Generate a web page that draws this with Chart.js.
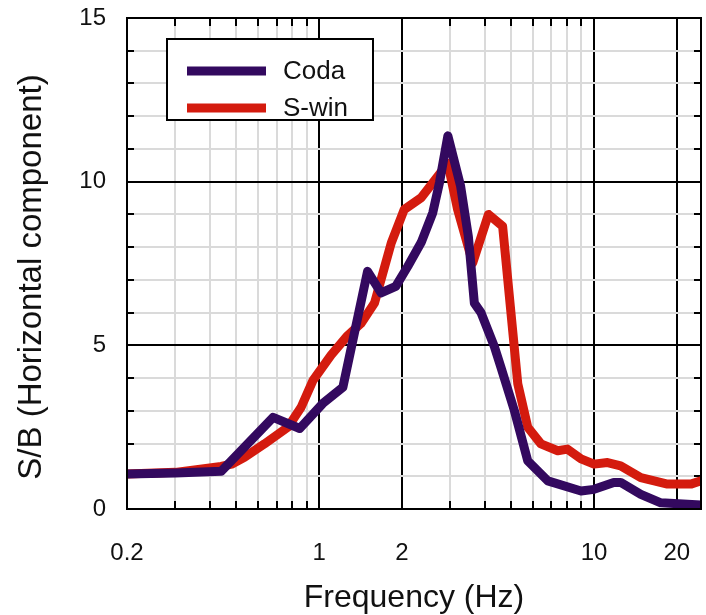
<!DOCTYPE html>
<html>
<head>
<meta charset="utf-8">
<script src="https://cdn.jsdelivr.net/npm/chart.js@4/dist/chart.umd.min.js"></script>
<style>
html,body{margin:0;padding:0;background:#fff;}
#wrap{width:706px;height:615px;position:relative;}
</style>
</head>
<body>
<div id="wrap"><canvas id="c" width="706" height="615"></canvas></div>
<script>
// ---- data ----
const codaFreq = [0.2, 0.3, 0.44, 0.68, 0.85, 1.03, 1.22, 1.50, 1.68, 1.90, 2.10, 2.35, 2.59, 2.74, 2.94, 3.27, 3.49, 3.67, 3.88, 4.34, 4.58, 5.13, 5.74, 6.79, 8.97, 10.0, 11.8, 12.5, 14.8, 17.5, 24.5];
const codaSB   = [1.07, 1.10, 1.15, 2.80, 2.46, 3.22, 3.72, 7.26, 6.60, 6.80, 7.41, 8.14, 9.05, 9.97, 11.40, 9.87, 8.33, 6.29, 6.00, 4.96, 4.34, 3.01, 1.47, 0.86, 0.55, 0.60, 0.81, 0.81, 0.45, 0.19, 0.12];
const swinFreq = [0.2, 0.3, 0.44, 0.48, 0.535, 0.633, 0.77, 0.86, 0.95, 1.105, 1.27, 1.42, 1.59, 1.83, 2.04, 2.35, 2.62, 2.94, 3.19, 3.62, 4.13, 4.65, 5.28, 5.74, 6.41, 7.38, 8.0, 8.97, 10.0, 11.2, 12.5, 14.8, 18.5, 22.5, 24.5];
const swinSB   = [1.07, 1.12, 1.30, 1.37, 1.58, 1.99, 2.50, 3.11, 3.93, 4.70, 5.30, 5.67, 6.29, 8.13, 9.15, 9.51, 10.02, 10.56, 9.15, 7.52, 9.00, 8.64, 3.83, 2.50, 1.99, 1.78, 1.83, 1.53, 1.37, 1.42, 1.32, 0.96, 0.76, 0.76, 0.86];
const seriesNames = ['Coda', 'S-win'];
const xTickValues = [0.2, 0.3, 0.4, 0.5, 0.6, 0.7, 0.8, 0.9, 1, 2, 3, 4, 5, 6, 7, 8, 9, 10, 20];
const xLabelValues = [0.2, 1, 2, 10, 20];
const xMajorValues = [1, 2, 10, 20];
const yTickValues = [0, 1, 2, 3, 4, 5, 6, 7, 8, 9, 10, 11, 12, 13, 14, 15];
const yLabelValues = [0, 5, 10, 15];
const yMajorValues = [5, 10];
const xTitle = 'Frequency (Hz)';
const yTitle = 'S/B (Horizontal component)';

// ---- styles ----
const FONT = '"Liberation Sans", Arial, Helvetica, sans-serif';
const COLORS = ['#33095f', '#d41b0e'];
const GRID_MINOR = '#dadada';

const pts = (xs, ys) => xs.map((x, i) => ({x: x, y: ys[i]}));

function zeroPad(scale) {
  scale.paddingLeft = 0; scale.paddingRight = 0;
  scale.paddingTop = 0; scale.paddingBottom = 0;
}

const framePlugin = {
  id: 'frame',
  beforeDatasetsDraw(chart) {
    const {ctx, chartArea: a, scales: {x, y}} = chart;
    ctx.save();
    ctx.strokeStyle = '#000';
    ctx.lineWidth = 2;
    ctx.beginPath();
    xTickValues.forEach(v => {
      if (xMajorValues.includes(v) || v === xTickValues[0]) return;
      const px = Math.round(x.getPixelForValue(v));
      ctx.moveTo(px, a.bottom); ctx.lineTo(px, a.bottom - 8);
      ctx.moveTo(px, a.top); ctx.lineTo(px, a.top + 8);
    });
    yTickValues.forEach(v => {
      if (yMajorValues.includes(v) || yLabelValues.includes(v)) return;
      const py = Math.round(y.getPixelForValue(v));
      ctx.moveTo(a.left, py); ctx.lineTo(a.left + 7, py);
      ctx.moveTo(a.right, py); ctx.lineTo(a.right - 7, py);
    });
    ctx.stroke();
    ctx.restore();
  },
  afterDatasetsDraw(chart) {
    const {ctx, chartArea: a} = chart;
    ctx.save();
    ctx.strokeStyle = '#000';
    ctx.lineWidth = 2;
    ctx.strokeRect(a.left, a.top, a.right - a.left, a.bottom - a.top);
    ctx.restore();
  },
  afterDraw(chart) {
    const {ctx, chartArea: a} = chart;
    ctx.save();
    ctx.fillStyle = '#111';
    ctx.font = '32px ' + FONT;
    ctx.textAlign = 'center';
    ctx.textBaseline = 'alphabetic';
    ctx.fillText(xTitle, (a.left + a.right) / 2, 607);
    ctx.font = '33px ' + FONT;
    ctx.translate(41, 277);
    ctx.rotate(-Math.PI / 2);
    ctx.fillText(yTitle, 0, 0);
    ctx.restore();

    ctx.save();
    const bx = 167, by = 39, bw = 206, bh = 81;
    ctx.fillStyle = '#fff';
    ctx.fillRect(bx, by, bw, bh);
    ctx.strokeStyle = '#000';
    ctx.lineWidth = 2;
    ctx.strokeRect(bx, by, bw, bh);
    ctx.font = '26px ' + FONT;
    ctx.textAlign = 'left';
    ctx.textBaseline = 'middle';
    chart.data.datasets.forEach((ds, i) => {
      const cy = 71 + i * 37;
      ctx.strokeStyle = ds.borderColor;
      ctx.lineWidth = 9;
      ctx.lineCap = 'butt';
      ctx.beginPath();
      ctx.moveTo(187, cy); ctx.lineTo(266, cy);
      ctx.stroke();
      ctx.fillStyle = '#111';
      ctx.fillText(ds.label, 283, cy + 1);
    });
    ctx.restore();
  }
};

new Chart(document.getElementById('c'), {
  type: 'line',
  data: {
    datasets: [
      {label: seriesNames[0], data: pts(codaFreq, codaSB), borderColor: COLORS[0], borderWidth: 9, pointRadius: 0, tension: 0, borderJoinStyle: 'round', borderCapStyle: 'round', fill: false},
      {label: seriesNames[1], data: pts(swinFreq, swinSB), borderColor: COLORS[1], borderWidth: 9, pointRadius: 0, tension: 0, borderJoinStyle: 'round', borderCapStyle: 'round', fill: false}
    ]
  },
  options: {
    responsive: false,
    animation: false,
    devicePixelRatio: 1,
    layout: {padding: {left: 0, top: 18, right: 5, bottom: 0}},
    plugins: {legend: {display: false}, tooltip: {enabled: false}, title: {display: false}},
    scales: {
      x: {
        type: 'logarithmic',
        min: 0.2,
        max: 24.5,
        afterBuildTicks(scale) { scale.ticks = xTickValues.map(v => ({value: v})); },
        afterFit(scale) { scale.height = 106; zeroPad(scale); },
        grid: {
          drawTicks: false,
          color: ctx => (ctx.tick && xMajorValues.includes(ctx.tick.value)) ? '#000' : GRID_MINOR,
          lineWidth: 2
        },
        border: {display: false},
        ticks: {
          autoSkip: false,
          maxRotation: 0,
          padding: 30,
          color: '#111',
          font: {family: FONT, size: 24},
          callback: v => xLabelValues.includes(v) ? String(v) : ''
        }
      },
      y: {
        min: 0,
        max: 15,
        afterBuildTicks(scale) { scale.ticks = yTickValues.map(v => ({value: v})); },
        afterFit(scale) { scale.width = 127; zeroPad(scale); },
        grid: {
          drawTicks: false,
          color: ctx => (ctx.tick && yMajorValues.includes(ctx.tick.value)) ? '#000' : GRID_MINOR,
          lineWidth: 2
        },
        border: {display: false},
        ticks: {
          autoSkip: false,
          padding: 21,
          color: '#111',
          font: {family: FONT, size: 24},
          callback: v => yLabelValues.includes(v) ? String(v) : ''
        }
      }
    }
  },
  plugins: [framePlugin]
});
</script>
</body>
</html>
